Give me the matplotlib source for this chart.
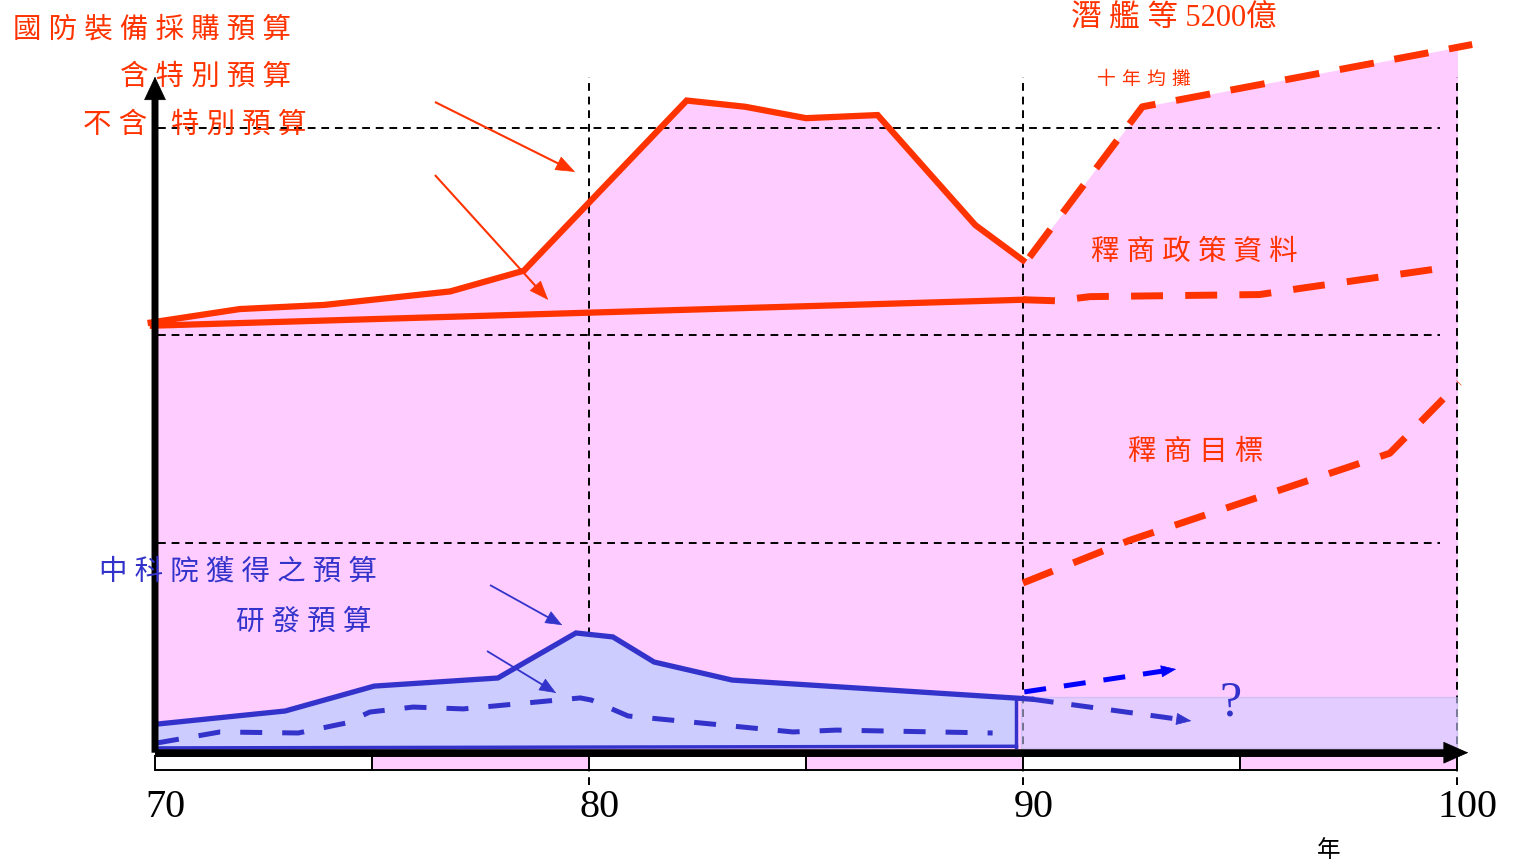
import matplotlib
matplotlib.use('Agg')
import matplotlib.pyplot as plt
from matplotlib.patches import Rectangle

plt.rcParams['font.family'] = ['Liberation Serif', 'Noto Sans CJK TC', 'DejaVu Sans']

RED = '#FF3300'
BLUE = '#3333CC'
PURE_BLUE = '#0000FF'
PINK = '#FFCCFF'
LIGHT_BLUE = '#CCCCFF'

# 國防裝備採購預算 (含特別預算)
total_years = [69.9, 71.95, 73.9, 76.8, 78.5, 82.25, 83.6, 85.0, 86.65, 88.9, 90.0]
total_budget = [206, 212.5, 214.5, 221, 231, 313, 310, 304.5, 306, 253, 236]

# 不含特別預算
regular_years = [69.95, 90.0]
regular_budget = [204.5, 217]

# 潛艦等5200億 十年均攤
sub_years = [90.15, 92.75, 100.35]
sub_budget = [237.5, 310, 340]

# 釋商政策資料
policy_years = [90.0, 90.75, 91.55, 95.45, 96.4, 99.75]
policy_budget = [217, 216.5, 218.5, 219.5, 222.5, 232.5]

# 釋商目標
target_years = [90.0, 92.45, 98.45, 100.05]
target_budget = [80.5, 101, 143, 177]

# 中科院獲得之預算
csist_years = [70.05, 73.0, 75.05, 77.9, 79.7, 80.55, 81.5, 83.3, 89.85, 90.2]
csist_budget = [12.5, 18.8, 30.8, 34.7, 56.4, 54.5, 42.4, 33.7, 25.0, 24.5]

# 研發預算
rd_years = [70.05, 71.5, 73.3, 74.4, 74.95, 75.95, 77.1, 79.8, 80.05, 80.9,
            81.85, 84.7, 85.7, 89.3]
rd_budget = [3.4, 8.7, 8.2, 13.0, 18.3, 20.7, 19.8, 25.1, 24.1, 16.4,
             14.5, 8.7, 9.6, 8.2]

# 90年後的兩種走向
csist_up = ([90.03, 93.53], [28.0, 39.0])
csist_down = ([90.2, 93.88], [24.5, 14.0])
gap_years = [89.95, 100.0]
gap_top = 25.7

grid_levels = [100, 200, 300]
decade_ticks = [70, 80, 90, 100]
strip_starts = [70, 75, 80, 85, 90, 95]


def spaced(s, sep='\u2005'):
    return sep.join(s)


def arrow(ax, p0, p1, color, lw, hl, hw, ls='-', z=5):
    # 先畫箭桿 (可為虛線), 再單獨畫箭頭
    ax.annotate('', xy=p1, xytext=p0, zorder=z,
                arrowprops=dict(arrowstyle='-', color=color, lw=lw, linestyle=ls,
                                shrinkA=0, shrinkB=hl * 0.8, capstyle='butt'))
    tail = (p1[0] - 0.01 * (p1[0] - p0[0]), p1[1] - 0.01 * (p1[1] - p0[1]))
    ax.annotate('', xy=p1, xytext=tail, zorder=z,
                arrowprops=dict(arrowstyle=f'-|>,head_length={hl},head_width={hw}',
                                mutation_scale=1, color=color, lw=0.5,
                                shrinkA=0, shrinkB=0))


fig = plt.figure(figsize=(15.15, 8.66), dpi=100)
ax = fig.add_axes([0, 0, 1, 1])
ax.set_xlim(66.4286, 101.3364)
ax.set_ylim(-55.90, 361.45)
ax.set_axis_off()

# 粉紅底色: 採購預算總額
pink = ax.fill_between(total_years + sub_years, total_budget + sub_budget, 0,
                       color=PINK, lw=0, zorder=1)
pink.set_clip_path(Rectangle((70, -10), 30, 400, transform=ax.transData))

# 格線
ax.hlines(grid_levels, 70.07, 99.6, colors='k', linestyles=(0, (4, 3)), lw=1.4, zorder=2)
ax.vlines(decade_ticks[1:], -16.9, 324.5, colors='k', linestyles=(0, (4, 3)), lw=1.4, zorder=2)

# 90年後未知區塊
ax.fill_between(gap_years, gap_top, 1.0, facecolor=LIGHT_BLUE, alpha=0.55,
                edgecolor='#B8B8F0', lw=1.0, zorder=3)

# 中科院預算區塊
ax.fill_between(csist_years[:-1], csist_budget[:-1], 1.5, color=LIGHT_BLUE, lw=0, zorder=3.5)
ax.plot(csist_years, csist_budget, color=BLUE, lw=3.8, solid_joinstyle='miter', zorder=4)
ax.plot([csist_years[-2], csist_years[-2]], [csist_budget[-2], 1.5], color=BLUE, lw=2.5, zorder=4)
ax.plot([csist_years[0], csist_years[-2]], [1.0, 1.8], color=BLUE, lw=2.5, zorder=4)
ax.plot(rd_years, rd_budget, color=BLUE, lw=3.6, dashes=(4.4, 4), zorder=4)

# 紅色預算線
ax.plot(total_years, total_budget, color=RED, lw=4.5, solid_joinstyle='miter', zorder=4)
ax.plot(regular_years, regular_budget, color=RED, lw=4.5, zorder=4)
ax.plot(sub_years, sub_budget, color=RED, lw=5, dashes=(5, 3), zorder=4)
ax.plot(policy_years, policy_budget, color=RED, lw=5, dashes=(4.6, 3.2), zorder=4)
ax.plot(target_years, target_budget, color=RED, lw=5, dashes=(4.6, 3.2), zorder=4)

# 90年後中科院預算走向
arrow(ax, (csist_up[0][0], csist_up[1][0]), (csist_up[0][1], csist_up[1][1]),
      PURE_BLUE, 3.6, 10, 4, ls=(0, (4.4, 3.6)))
arrow(ax, (csist_down[0][0], csist_down[1][0]), (csist_down[0][1], csist_down[1][1]),
      BLUE, 3.6, 10, 4, ls=(0, (4.4, 3.6)))

# 標示箭頭
arrow(ax, (76.45, 312.3), (79.68, 278.6), RED, 1.5, 13, 5)
arrow(ax, (76.45, 277.1), (79.06, 216.9), RED, 1.5, 13, 5)
arrow(ax, (77.72, 79.5), (79.38, 60.2), BLUE, 1.3, 11, 4.5)
arrow(ax, (77.65, 47.7), (79.24, 27.5), BLUE, 1.3, 11, 4.5)

# 年度色條
strip_colors = ['white' if i % 2 == 0 else PINK for i in range(len(strip_starts))]
ax.bar(strip_starts, 6.5, bottom=-9.4, width=5, align='edge', color=strip_colors,
       edgecolor='k', lw=1.4, zorder=5)

# 座標軸
arrow(ax, (70, -1.3), (70, 324.5), 'k', 5, 16, 7.5, z=6)
arrow(ax, (70, -1.3), (100.26, -1.3), 'k', 5, 17, 7.5, z=6)

for t in decade_ticks:
    ax.text(t + 0.24, -27.5, str(t), ha='center', va='center', fontsize=29, color='k')
ax.text(97.05, -48.2, '年', ha='center', va='center', fontsize=17, color='k',
        family=['Noto Sans CJK TC'])

# 文字標籤
ax.text(66.72, 347.0, spaced('國防裝備採購預算'), fontsize=20.5, color=RED, va='center', zorder=7)
ax.text(69.2, 324.1, spaced('含特別預算'), fontsize=20.5, color=RED, va='center', zorder=5.5)
ax.text(68.35, 300.7, spaced('不含'), fontsize=20.5, color=RED, va='center', zorder=7)
ax.text(70.37, 300.7, spaced('特別預算'), fontsize=20.5, color=RED, va='center', zorder=7)
ax.text(91.1, 352.0, spaced('潛艦等') + '\u2005' + '5200億', fontsize=22, color=RED,
        va='center', zorder=7)
ax.text(91.7, 322.9, spaced('十年均攤', '\u2004'), fontsize=13.5, color=RED, va='center', zorder=7)
ax.text(91.57, 239.5, spaced('釋商政策資料'), fontsize=20.5, color=RED, va='center', zorder=7)
ax.text(92.43, 143.1, spaced('釋商目標'), fontsize=20.5, color=RED, va='center', zorder=7)
ax.text(68.7, 85.8, spaced('中科院獲得之預算'), fontsize=20.5, color=BLUE, va='center', zorder=7)
ax.text(71.87, 61.7, spaced('研發預算'), fontsize=20.5, color=BLUE, va='center', zorder=7)
ax.text(94.79, 22.7, '?', fontsize=36, color=BLUE, ha='center', va='center', zorder=7)

fig.savefig('out.png', dpi=100)
